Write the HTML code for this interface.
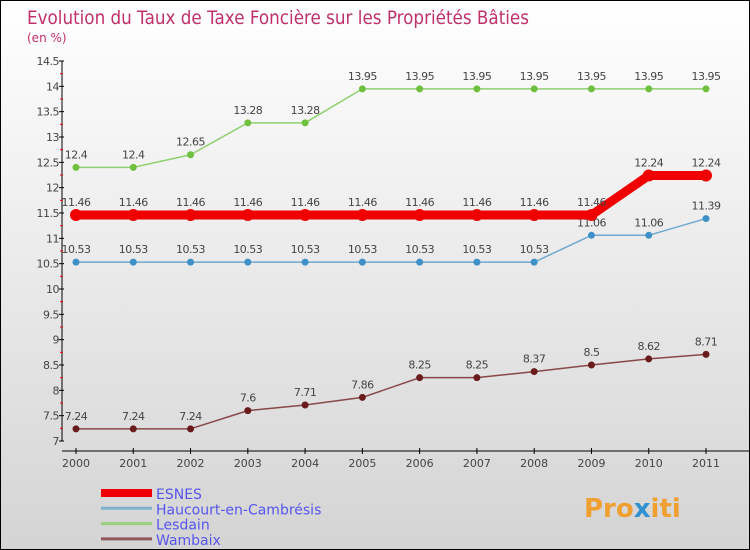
<!DOCTYPE html>
<html><head><meta charset="utf-8"><style>
body{margin:0}
#c{width:750px;height:550px;position:relative;background:linear-gradient(#fff,#d4d4d4);border:1px solid #000;box-sizing:border-box;font-family:"DejaVu Sans","Liberation Sans",sans-serif;overflow:hidden}
</style></head><body>
<div id="c">
<svg id="s" width="750" height="550" style="position:absolute;left:0;top:0">
<text x="26" y="23" font-size="19" fill="#c0306a" textLength="502" lengthAdjust="spacingAndGlyphs">Evolution du Taux de Taxe Foncière sur les Propriétés Bâties</text>
<text x="26" y="41" font-size="12" fill="#c0306a">(en %)</text>
<text x="583" y="516" font-size="26" font-weight="bold" fill="#f0a030">Pro<tspan fill="#3090d0">x</tspan>iti</text>
</svg>
</div>
<script>
const years=[2000,2001,2002,2003,2004,2005,2006,2007,2008,2009,2010,2011];
const yTicks=[7,7.5,8,8.5,9,9.5,10,10.5,11,11.5,12,12.5,13,13.5,14,14.5];
const esnes=[11.46,11.46,11.46,11.46,11.46,11.46,11.46,11.46,11.46,11.46,12.24,12.24];
const haucourt=[10.53,10.53,10.53,10.53,10.53,10.53,10.53,10.53,10.53,11.06,11.06,11.39];
const lesdain=[12.4,12.4,12.65,13.28,13.28,13.95,13.95,13.95,13.95,13.95,13.95,13.95];
const wambaix=[7.24,7.24,7.24,7.6,7.71,7.86,8.25,8.25,8.37,8.5,8.62,8.71];
const names=['ESNES','Haucourt-en-Cambrésis','Lesdain','Wambaix'];
const svg=document.getElementById('s');const NS='http://www.w3.org/2000/svg';
function X(i){return 75+i*(705-75)/(years.length-1);}
function Y(v){return 440-(v-7)*(380/7.5);}
function mk(t,a,p){const e=document.createElementNS(NS,t);for(const k in a)e.setAttribute(k,a[k]);(p||svg).appendChild(e);return e;}
// axes
let ax=mk('line',{x1:61,y1:60,x2:61,y2:440,stroke:'#000','stroke-width':1});


let xa=mk('line',{x1:61,y1:450,x2:750,y2:450,stroke:'#000','stroke-width':1});


yTicks.forEach(v=>{const y=Y(v);mk('line',{x1:58,y1:y,x2:63,y2:y,stroke:'#000'});
 if(v<14.5)mk('line',{x1:59,y1:Y(v+0.25),x2:62,y2:Y(v+0.25),stroke:'#e00'});
 const t=mk('text',{x:58,y:y+4,'font-size':11,fill:'#444','text-anchor':'end','letter-spacing':'-0.5'});t.textContent=String(v);
 
 });
years.forEach((yr,i)=>{const x=X(i);mk('line',{x1:x,y1:447,x2:x,y2:453,stroke:'#000'});
 const t=mk('text',{x:x,y:466,'font-size':11,fill:'#444','text-anchor':'middle'});t.textContent=yr;
 
 });
function series(vals,color,w,r,dot,name){
 const g=mk('g',{});
 
 
 mk('polyline',{points:vals.map((v,i)=>X(i)+','+Y(v)).join(' '),fill:'none',stroke:color,'stroke-width':w,'stroke-linejoin':'round'},g);
 vals.forEach((v,i)=>{const c=mk('circle',{cx:X(i),cy:Y(v),r:r,fill:dot},g);
  
  
  const t=mk('text',{x:X(i),y:Y(v)-9,'font-size':11,fill:'#444','text-anchor':'middle','letter-spacing':'-0.5'},g);t.textContent=String(v);
  
  });
}
series(lesdain,'#8fd070',1.5,3.5,'#70c040','series-lesdain');
series(haucourt,'#70a8d0',1.5,3.5,'#4090c8','series-haucourt');
series(wambaix,'#884848',1.5,3.5,'#6a1c1c','series-wambaix');
series(esnes,'#f00000',9,6,'#f00000','series-esnes');
const lc=['#f00000','#80b0d0','#98d080','#905858'],lw=[8,3,3,3];
names.forEach((n,i)=>{const y=492+i*15.3;
 const l=mk('line',{x1:100,y1:y,x2:151,y2:y,stroke:lc[i],'stroke-width':lw[i]});
 
 
 const t=mk('text',{x:155,y:y+6,'font-size':14,fill:'#5555ee'});t.textContent=n;
 
 });
</script>
</body></html>
